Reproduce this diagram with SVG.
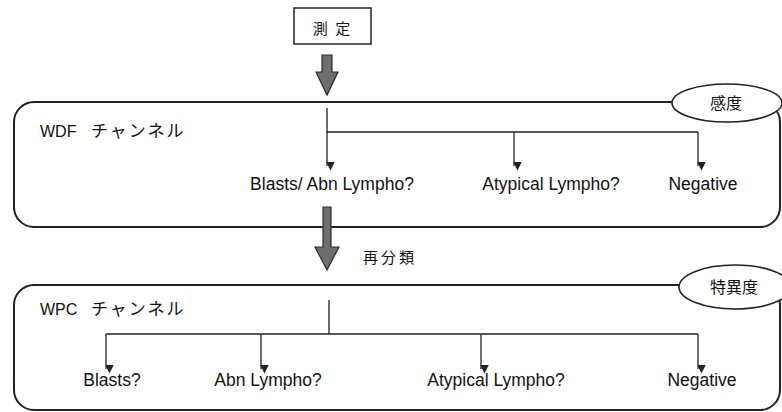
<svg xmlns="http://www.w3.org/2000/svg" width="782" height="412" viewBox="0 0 782 412">
<style>
.box{fill:#fff;stroke:#222;stroke-width:2}
.ell{fill:#fff;stroke:#222;stroke-width:1.6}
.ln{fill:none;stroke:#222;stroke-width:1.3}
.big{fill:#6e6e6e;stroke:#2a2a2a;stroke-width:1.2}
.t{font-family:"Liberation Sans","Noto Sans CJK JP",sans-serif;fill:#111}
.lab{font-size:17.5px;text-anchor:middle}
.hd{font-size:16px}
.jp{font-family:"Noto Sans CJK JP",sans-serif;fill:#111}
</style>
<defs>
<marker id="ah" markerWidth="9" markerHeight="9" refX="4.5" refY="8" orient="auto" markerUnits="userSpaceOnUse" viewBox="0 0 9 9">
<path d="M0,0 L9,0 L4.5,9 Z" fill="#222" transform="rotate(-90 4.5 4.5)"/>
</marker>
</defs>

<g id="measure">
<rect x="294" y="8" width="77" height="36" fill="#fff" stroke="#222" stroke-width="1.5"/>
<text class="jp" x="332.5" y="34" font-size="15" text-anchor="middle" letter-spacing="2">測 定</text>
</g>

<g id="wdf">
<rect class="box" x="14" y="102" width="766" height="125" rx="20" ry="20"/>
<text class="t hd" x="40" y="137">WDF<tspan class="jp" x="91" font-size="17" letter-spacing="2">チャンネル</tspan></text>
</g>
<g id="sensitivity">
<ellipse class="ell" cx="727" cy="103" rx="55" ry="19"/>
<text class="jp" x="726" y="109" font-size="16" text-anchor="middle">感度</text>
</g>

<g id="wpc">
<rect class="box" x="14" y="285" width="766" height="125" rx="20" ry="20"/>
<text class="t hd" x="40" y="315">WPC<tspan class="jp" x="91" font-size="17" letter-spacing="2">チャンネル</tspan></text>
</g>
<g id="specificity">
<ellipse class="ell" cx="735" cy="287" rx="56" ry="22"/>
<text class="jp" x="734" y="293" font-size="16" text-anchor="middle">特異度</text>
</g>

<g id="labels">
<text class="t lab" x="332" y="190">Blasts/ Abn Lympho?</text>
<text class="t lab" x="551" y="190">Atypical Lympho?</text>
<text class="t lab" x="703" y="190">Negative</text>
<text class="t lab" x="112" y="386">Blasts?</text>
<text class="t lab" x="268" y="386">Abn Lympho?</text>
<text class="t lab" x="496" y="386">Atypical Lympho?</text>
<text class="t lab" x="702" y="386">Negative</text>
<text class="jp" x="363" y="263" font-size="15" letter-spacing="3">再分類</text>
</g>

<g id="connectors">
<path class="big" d="M322,55 H332 V72 H338 L327,95 L316,72 H322 Z"/>
<path class="big" d="M323,207 H331 V247 H339 L327,270 L315,247 H323 Z"/>
<path class="ln" d="M327,108 V133 M327,132 H698"/>
<path class="ln" d="M327,132 V166" marker-end="url(#ah)"/>
<path class="ln" d="M514,132 V166" marker-end="url(#ah)"/>
<path class="ln" d="M698,132 V166" marker-end="url(#ah)"/>
<path class="ln" d="M329,300 V334 M106,334 H698"/>
<path class="ln" d="M106,334 V369" marker-end="url(#ah)"/>
<path class="ln" d="M261,334 V369" marker-end="url(#ah)"/>
<path class="ln" d="M481,334 V369" marker-end="url(#ah)"/>
<path class="ln" d="M698,334 V369" marker-end="url(#ah)"/>
</g>
</svg>
